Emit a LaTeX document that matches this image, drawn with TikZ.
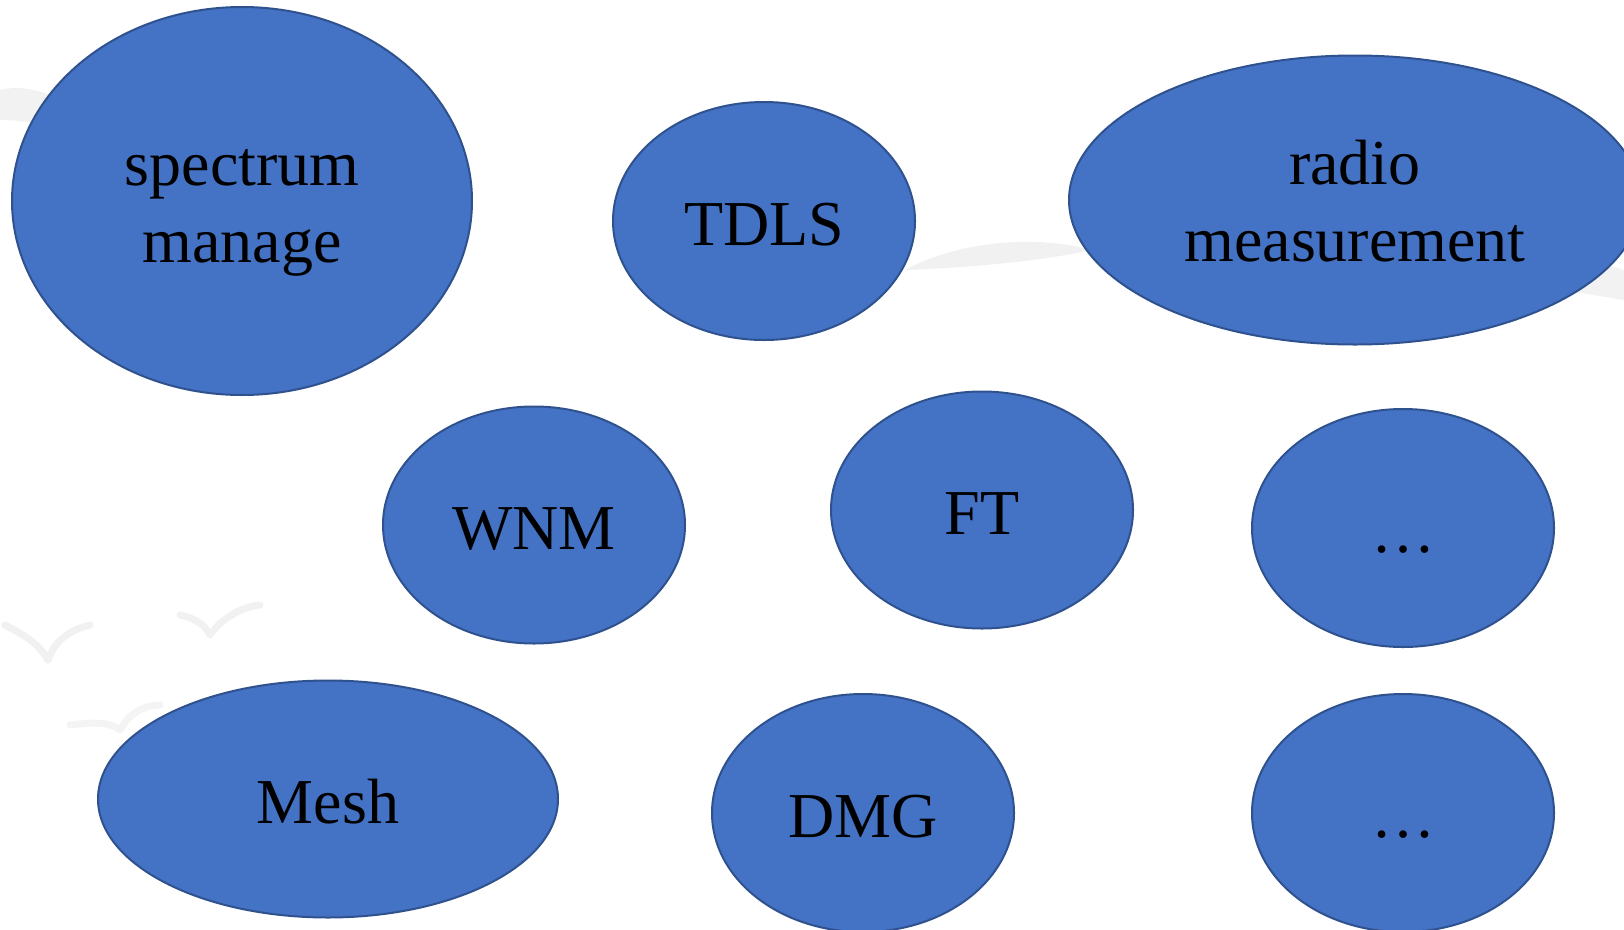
\documentclass[tikz,border=0pt]{standalone}
\usepackage{fontspec}
\setmainfont{Liberation Serif}
\usetikzlibrary{shapes.geometric}

\definecolor{bubblefill}{HTML}{4472C4}
\definecolor{bubbleline}{HTML}{2F528F}
\definecolor{haze}{HTML}{E4E4E4}

\tikzset{
  bubble/.style={ellipse, draw=bubbleline, line width=2pt, fill=bubblefill,
    inner sep=0pt, text=black, align=center,
    font=\fontsize{64}{77}\selectfont, text height=48pt, text depth=0pt},
  % two-line labels sit on their last baseline
  twoline/.style={text height=125pt, text depth=3pt},
  bird/.style={draw=haze, line width=7pt, line cap=round, line join=round},
}

\begin{document}
\begin{tikzpicture}[x=1pt, y=-1pt]
  \useasboundingbox (0,0) rectangle (1624,929);
  \fill[white] (0,0) rectangle (1624,929);

  % faint background watermark: cloud streaks and birds
  \fill[haze, opacity=0.5] (905,270) .. controls (960,240) and (1040,235) .. (1090,250)
     .. controls (1040,262) and (960,268) .. (905,270) -- cycle;
  \fill[haze, opacity=0.45] (0,90) .. controls (40,80) and (90,110) .. (120,150)
     .. controls (80,130) and (30,120) .. (0,120) -- cycle;
  \fill[haze, opacity=0.45] (1560,270) .. controls (1590,262) and (1610,265) .. (1624,270)
     -- (1624,300) .. controls (1600,296) and (1575,292) .. (1560,290) -- cycle;
  \draw[bird, opacity=0.5] (5,625) .. controls (25,635) and (40,645) .. (48,660)
     .. controls (55,640) and (70,630) .. (90,625);
  \draw[bird, opacity=0.5] (180,615) .. controls (195,618) and (205,625) .. (210,635)
     .. controls (220,620) and (240,607) .. (260,605);
  \draw[bird, opacity=0.4] (70,725) .. controls (95,722) and (110,722) .. (120,730)
     .. controls (130,712) and (145,705) .. (160,705);

  % feature bubbles
  \node[bubble, twoline, minimum width=460pt, minimum height=388pt] (spec) at (242,201) {spectrum\\manage};
  \node[bubble, minimum width=302pt, minimum height=238pt] (tdls) at (764,221) {TDLS};
  \node[bubble, twoline, minimum width=572pt, minimum height=289pt] (radio) at (1355,200) {radio\\measurement};
  \node[bubble, minimum width=302pt, minimum height=237pt] (wnm) at (534,525) {WNM};
  \node[bubble, minimum width=302pt, minimum height=237pt] (ft) at (982,510) {FT};
  \node[bubble, minimum width=302pt, minimum height=238pt] (moreA) at (1403,528) {…};
  \node[bubble, minimum width=460pt, minimum height=237pt] (mesh) at (328,799) {Mesh};
  \node[bubble, minimum width=302pt, minimum height=238pt] (dmg) at (863,813) {DMG};
  \node[bubble, minimum width=302pt, minimum height=238pt] (moreB) at (1403,813) {…};
\end{tikzpicture}
\end{document}
